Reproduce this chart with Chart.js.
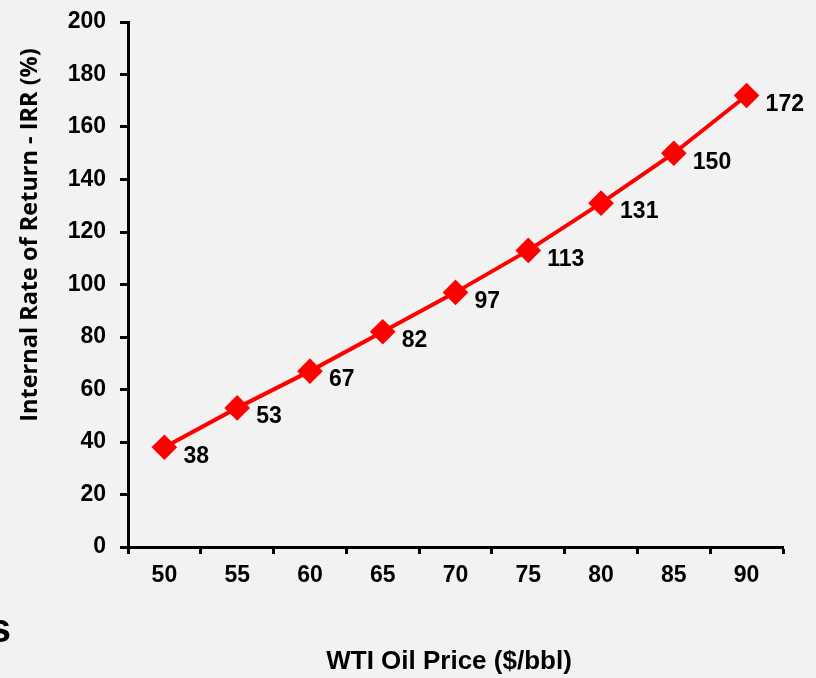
<!DOCTYPE html>
<html>
<head>
<meta charset="utf-8">
<script src="https://cdn.jsdelivr.net/npm/chart.js@4.4.1/dist/chart.umd.min.js"></script>
<style>
	html, body { margin: 0; padding: 0; background: #f2f2f2; }
	#wrap { width: 816px; height: 678px; }
</style>
</head>
<body>
<div id="wrap"><canvas id="chart"></canvas></div>
<script>
// WTI原油価格ごとのIRR
const oilPrices = ["50", "55", "60", "65", "70", "75", "80", "85", "90"];
const irrValues = [38, 53, 67, 82, 97, 113, 131, 150, 172];
const yTicks = [0, 20, 40, 60, 80, 100, 120, 140, 160, 180, 200];
const xTitle = "WTI Oil Price ($/bbl)";
const yTitle = "Internal Rate of Return - IRR (%)";

const tickFont = { family: "'Liberation Sans', Arial, sans-serif", size: 23, weight: "bold" };

// 各点の右下に値を書く
const valueLabels = {
	id: "valueLabels",
	afterDatasetsDraw(chart) {
		const ctx = chart.ctx;
		const meta = chart.getDatasetMeta(0);
		ctx.save();
		ctx.font = "bold 23px 'Liberation Sans', Arial, sans-serif";
		ctx.fillStyle = "#000";
		ctx.textAlign = "left";
		ctx.textBaseline = "middle";
		meta.data.forEach((pt, i) => {
			ctx.fillText(String(irrValues[i]), pt.x + 19, pt.y + 9);
		});
		ctx.restore();
	},
};

// 軸タイトルと左端の切れた文字
const titles = {
	id: "titles",
	afterDraw(chart) {
		const ctx = chart.ctx;
		ctx.save();
		ctx.fillStyle = "#000";
		ctx.textAlign = "center";
		ctx.textBaseline = "middle";
		ctx.font = "bold 26px 'Liberation Sans', Arial, sans-serif";
		ctx.fillText(xTitle, 449, 662);

		ctx.translate(30, 235);
		ctx.rotate(-Math.PI / 2);
		ctx.font = "bold 23.5px 'Open Sans', sans-serif";
		ctx.fillText(yTitle, 0, 0);
		ctx.restore();

		ctx.save();
		ctx.fillStyle = "#000";
		ctx.font = "bold 40px 'Liberation Sans', Arial, sans-serif";
		ctx.textAlign = "right";
		ctx.textBaseline = "alphabetic";
		ctx.fillText("s", 11, 642);
		ctx.restore();
	},
};

new Chart(document.getElementById("chart"), {
	type: "line",
	data: {
		labels: oilPrices,
		datasets: [
			{
				data: irrValues,
				borderColor: "#ff0000",
				backgroundColor: "#ff0000",
				borderWidth: 4,
				pointStyle: "rectRot",
				pointRadius: 10,
				pointHoverRadius: 10,
				tension: 0,
			},
		],
	},
	options: {
		responsive: true,
		maintainAspectRatio: false,
		animation: false,
		layout: { padding: { top: 22, right: 33, left: 0, bottom: 0 } },
		plugins: {
			legend: { display: false },
			tooltip: { enabled: false },
		},
		scales: {
			x: {
				offset: true,
				grid: {
					offset: true,
					drawOnChartArea: false,
					drawTicks: true,
					tickLength: 7,
					tickWidth: 3,
					tickColor: "#000",
				},
				border: { display: true, color: "#000", width: 3 },
				ticks: { color: "#000", font: tickFont, padding: 8, maxRotation: 0 },
				afterFit: (scale) => {
					scale.height = 131;
					scale.paddingLeft = 0;
					scale.paddingRight = 0;
				},
			},
			y: {
				min: 0,
				max: 200,
				afterBuildTicks: (scale) => {
					scale.ticks = yTicks.map((v) => ({ value: v }));
				},
				grid: {
					drawOnChartArea: false,
					drawTicks: true,
					tickLength: 8,
					tickWidth: 3,
					tickColor: "#000",
				},
				border: { display: true, color: "#000", width: 3 },
				ticks: { color: "#000", font: tickFont, padding: 14 },
				afterFit: (scale) => {
					scale.width = 128;
					scale.paddingTop = 0;
					scale.paddingBottom = 0;
				},
			},
		},
	},
	plugins: [valueLabels, titles],
});
</script>
</body>
</html>
